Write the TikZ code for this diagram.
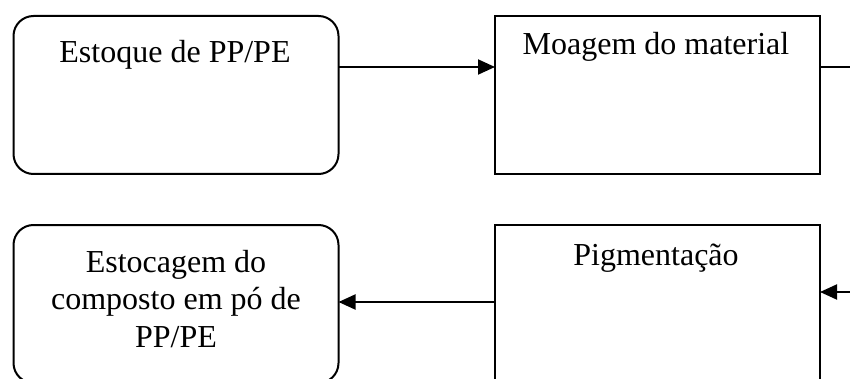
\documentclass[tikz,border=0pt]{standalone}
\usepackage{fontspec}
\setmainfont{Liberation Serif}
\usetikzlibrary{arrows.meta}
\begin{document}
\begin{tikzpicture}[x=1pt,y=-1pt,
  box/.style={draw=black,line width=2pt,minimum width=325pt,minimum height=158pt,inner sep=0pt,outer sep=0pt},
  rbox/.style={box,rounded corners=20pt},
  txt/.style={font=\fontsize{32}{37.5}\selectfont,align=center,inner sep=0pt},
  conn/.style={line width=2pt},
  arr/.style={conn,-{Triangle[length=17pt,width=15pt]}}]
\useasboundingbox (0,0) rectangle (850,379);
\node[rbox] (A) at (176,95) {};
\node[box] (B) at (657.5,95) {};
\node[box] (C) at (657.5,304) {};
\node[rbox] (D) at (176,304) {};
\node[txt,anchor=base] (At) at (175,63) {Estoque de PP/PE};
\node[txt,anchor=base] (Bt) at (656,55) {Moagem do material};
\node[txt,anchor=base] (Ct) at (656,265) {Pigmentação};
\node[txt,anchor=north] (Dt) at (176,250) {Estocagem do\\composto em pó de\\PP/PE};
\coordinate (Bout) at (855,67);
\coordinate (Cin) at (855,292);
\draw[arr] (A.east |- 0,67) -- (B.west |- 0,67);
\draw[conn] (B.east |- Bout) -- (Bout);
\draw[arr] (Cin) -- (C.east |- Cin);
\draw[arr] (C.west |- 0,302) -- (D.east |- 0,302);
\end{tikzpicture}
\end{document}
